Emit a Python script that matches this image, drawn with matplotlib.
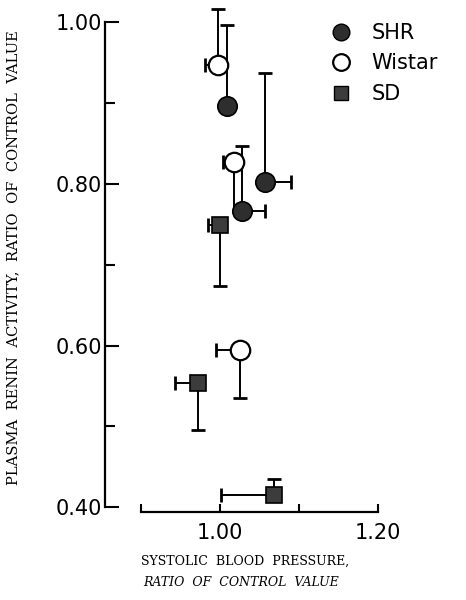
import matplotlib
matplotlib.use("Agg")
import matplotlib.pyplot as plt
from matplotlib.lines import Line2D

# systolic BP ratio (x) vs plasma renin activity ratio (y), one-sided error bars
shr_x = [1.009, 1.057, 1.028]
shr_y = [0.897, 0.802, 0.767]
shr_xerr = [[0.0, 0.0, 0.0], [0.0, 0.033, 0.029]]
shr_yerr = [[0.0, 0.0, 0.0], [0.10, 0.135, 0.08]]

wistar_x = [0.997, 1.017, 1.025]
wistar_y = [0.947, 0.827, 0.595]
wistar_xerr = [[0.017, 0.014, 0.031], [0.0, 0.0, 0.0]]
wistar_yerr = [[0.0, 0.06, 0.06], [0.07, 0.0, 0.0]]

sd_x = [1.00, 0.972, 1.068]
sd_y = [0.749, 0.554, 0.415]
sd_xerr = [[0.015, 0.029, 0.067], [0.0, 0.0, 0.0]]
sd_yerr = [[0.075, 0.059, 0.0], [0.0, 0.0, 0.02]]


def arms(ax, xs, ys, xerr, yerr, z, nocap=()):
    # draw only the non-zero arms, each with its own cap
    for i, (x, y) in enumerate(zip(xs, ys)):
        for side in (0, 1):
            for kind, err in (("x", xerr), ("y", yerr)):
                e = err[side][i]
                if e <= 0:
                    continue
                ee = [[e], [0]] if side == 0 else [[0], [e]]
                cs = 0 if (i, kind, side) in nocap else 5
                kw = {"xerr": ee} if kind == "x" else {"yerr": ee}
                ax.errorbar([x], [y], ls="none", marker="none", ecolor="black",
                            elinewidth=1.4, capsize=cs, capthick=2, zorder=z, **kw)


fig = plt.figure(figsize=(4.66, 6.0), dpi=100)
ax = fig.add_axes([105 / 466, 88 / 600, 312.5 / 466, 510 / 600])

arms(ax, sd_x, sd_y, sd_xerr, sd_yerr, 2)
arms(ax, wistar_x, wistar_y, wistar_xerr, wistar_yerr, 2, nocap={(1, "y", 0)})
arms(ax, shr_x, shr_y, shr_xerr, shr_yerr, 2)
ax.plot(sd_x, sd_y, ls="none", marker="s", ms=11, mfc="#3c3c3c", mec="black", mew=1.2, zorder=3)
ax.plot(wistar_x, wistar_y, ls="none", marker="o", ms=14, mfc="white", mec="black", mew=1.6, zorder=4)
ax.plot(shr_x, shr_y, ls="none", marker="o", ms=14, mfc="#2e2e2e", mec="black", mew=1.2, zorder=5)

ax.set_xlim(0.854, 0.854 + 312.5 / 790)
ax.set_ylim(0.394, 0.394 + 510 / 808)
ax.spines["top"].set_visible(False)
ax.spines["right"].set_visible(False)
ax.spines["left"].set_bounds(0.40, 1.00)
ax.spines["bottom"].set_bounds(0.90, 1.20)
ax.spines["left"].set_linewidth(1.6)
ax.spines["bottom"].set_linewidth(1.6)

ax.set_xticks([1.00, 1.20])
ax.set_xticklabels(["1.00", "1.20"])
ax.set_xticks([0.90, 1.10], minor=True)
ax.set_yticks([0.40, 0.60, 0.80, 1.00])
ax.set_yticklabels(["0.40", "0.60", "0.80", "1.00"])
ax.set_yticks([0.50, 0.70, 0.90], minor=True)
ax.tick_params(which="major", direction="in", length=10, width=1.5, labelsize=15, pad=2)
ax.tick_params(which="minor", direction="in", length=7, width=1.5)
ax.tick_params(axis="x", which="both", length=6)
ax.tick_params(axis="x", which="major", pad=8)

fig.text(13 / 466, 1 - 258 / 600, "PLASMA  RENIN  ACTIVITY,  RATIO  OF  CONTROL  VALUE",
         rotation=90, ha="center", va="center", family="DejaVu Serif", fontsize=10.6)
fig.text(245 / 466, 1 - 561 / 600, "SYSTOLIC  BLOOD  PRESSURE,",
         ha="center", va="center", family="DejaVu Serif", fontsize=9)
fig.text(241 / 466, 1 - 583 / 600, "RATIO  OF  CONTROL  VALUE",
         ha="center", va="center", family="DejaVu Serif", style="italic", fontsize=9)

handles = [
    Line2D([], [], ls="none", marker="o", ms=12, mfc="#2e2e2e", mec="black"),
    Line2D([], [], ls="none", marker="o", ms=12, mfc="white", mec="black", mew=1.6),
    Line2D([], [], ls="none", marker="s", ms=10, mfc="#3c3c3c", mec="black"),
]
fig.legend(handles, ["SHR", "Wistar", "SD"], loc="upper left", bbox_to_anchor=(331 / 466, 1 - 23 / 600),
           frameon=False, fontsize=15, handlelength=1.0, handletextpad=0.95, labelspacing=0.5,
           borderpad=0, borderaxespad=0)

fig.savefig("out.png", dpi=100)
